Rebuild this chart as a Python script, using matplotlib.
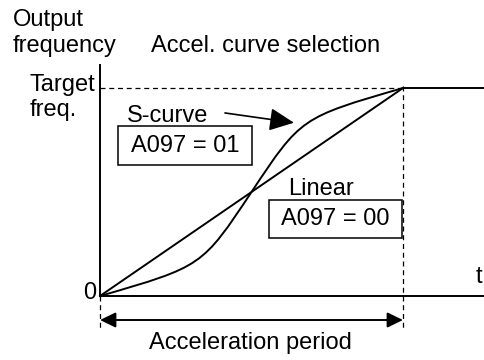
import matplotlib
matplotlib.use("Agg")
import matplotlib.pyplot as plt
from matplotlib.patches import Rectangle, PathPatch
from matplotlib.path import Path

plt.rcParams['font.family'] = ['Liberation Sans', 'DejaVu Sans']

# Data (normalized: time 0..1 = acceleration period, frequency 0..1 = target freq.)
linear_t = [0.0, 1.0]
linear_f = [0.0, 1.0]
# S-curve as two cubic Bezier segments (anchor / control points)
s_curve_t = [0.0, 0.337, 0.337, 0.5, 0.663, 0.663, 1.0]
s_curve_f = [0.0, 0.142, 0.142, 0.5, 0.858, 0.858, 1.0]
hold_t = [1.0, 1.275]
hold_f = [1.0, 1.0]

FS = 17
fig = plt.figure(figsize=(4.85, 3.6), dpi=100)
ax = fig.add_axes([0, 0, 1, 1])
ax.set_xlim(-0.330, 1.2706)
ax.set_ylim(-0.3077, 1.4231)
ax.axis('off')

lw = 1.4
# axes
ax.plot([0, 0], [0, 1.111], color='black', lw=lw)
ax.plot([0, 1.275], [0, 0], color='black', lw=lw)

# curves
ax.plot(linear_t, linear_f, color='black', lw=lw)
codes = [Path.MOVETO] + [Path.CURVE4] * 6
ax.add_patch(PathPatch(Path(list(zip(s_curve_t, s_curve_f)), codes),
                       fill=False, lw=lw, ec='black'))
ax.plot(hold_t, hold_f, color='black', lw=lw, solid_capstyle='butt')

# dashed guides
ax.plot([0, 1], [1, 1], color='black', lw=0.9, dashes=(4, 3))
ax.plot([1, 1], [1.01, -0.163], color='black', lw=0.9, dashes=(4, 3))
ax.plot([0, 0], [0, -0.163], color='black', lw=0.9, dashes=(4, 3))

# acceleration period double arrow
ax.annotate('', xy=(1, -0.1154), xytext=(0, -0.1154),
            arrowprops=dict(arrowstyle='<|-|>,head_length=9.5,head_width=4.6',
                            mutation_scale=1, lw=1.4, color='black',
                            shrinkA=0, shrinkB=0))

# S-curve pointer arrow
ax.annotate('', xy=(0.640, 0.833), xytext=(0.4125, 0.880),
            arrowprops=dict(arrowstyle='-|>,head_length=15,head_width=7',
                            mutation_scale=1, lw=1.2, color='black',
                            shrinkA=0, shrinkB=0))

# boxes
ax.add_patch(Rectangle((0.059, 0.630), 0.443, 0.187, fill=False, lw=1.1, ec='black'))
ax.add_patch(Rectangle((0.558, 0.279), 0.439, 0.1825, fill=False, lw=1.1, ec='black'))

# texts
ax.text(-0.287, 1.298, 'Output', fontsize=FS, va='baseline', ha='left')
ax.text(-0.287, 1.173, 'frequency', fontsize=FS, va='baseline', ha='left')
ax.text(0.168, 1.173, 'Accel. curve selection', fontsize=FS, va='baseline', ha='left')
ax.text(-0.231, 0.986, 'Target', fontsize=FS, va='baseline', ha='left')
ax.text(-0.231, 0.865, 'freq.', fontsize=FS, va='baseline', ha='left')
ax.text(0.089, 0.837, 'S-curve', fontsize=FS, va='baseline', ha='left')
ax.text(0.2805, 0.7235, 'A097 = 01', fontsize=FS, va='center', ha='center')
ax.text(0.620, 0.486, 'Linear', fontsize=FS, va='baseline', ha='left')
ax.text(0.7775, 0.370, 'A097 = 00', fontsize=FS, va='center', ha='center')
ax.text(1.251, 0.0625, 't', fontsize=FS, va='baseline', ha='center')
ax.text(-0.013, 0.014, '0', fontsize=FS, va='center', ha='right')
ax.text(0.495, -0.255, 'Acceleration period', fontsize=FS, va='baseline', ha='center')

fig.savefig('out.png', dpi=100)
